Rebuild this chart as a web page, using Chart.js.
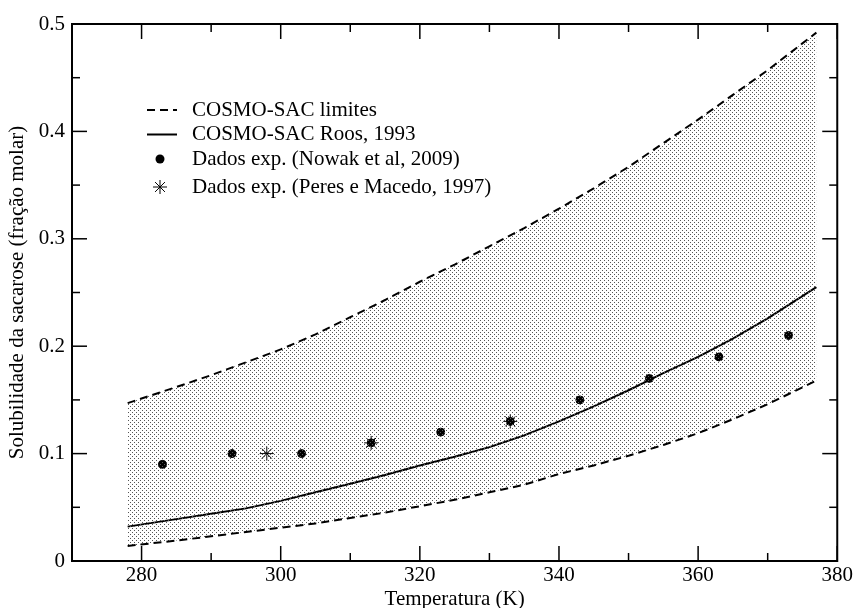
<!DOCTYPE html>
<html>
<head>
<meta charset="utf-8">
<script src="https://cdn.jsdelivr.net/npm/chart.js@4/dist/chart.umd.min.js"></script>
<style>
html,body{margin:0;padding:0;background:#fff;}
#wrap{width:855px;height:608px;position:relative;}
</style>
</head>
<body>
<div id="wrap"><canvas id="c" width="855" height="608"></canvas></div>
<script>
// ---- data ----
const temps = [278,285,290,295,300,305,310,315,320,325,330,335,340,345,350,355,360,365,370,377];
const upperLimit = [0.147,0.162,0.173,0.185,0.197,0.211,0.227,0.243,0.260,0.276,0.293,0.310,0.328,0.347,0.367,0.389,0.411,0.434,0.457,0.492];
const lowerLimit = [0.014,0.019,0.023,0.027,0.031,0.035,0.040,0.045,0.051,0.057,0.064,0.071,0.081,0.089,0.098,0.108,0.119,0.132,0.146,0.168];
const roos = [0.032,0.039,0.044,0.049,0.056,0.064,0.072,0.080,0.089,0.097,0.106,0.117,0.130,0.144,0.159,0.175,0.190,0.207,0.226,0.255];
const nowakT = [283,293,303,313,323,333,343,353,363,373];
const nowakX = [0.09,0.10,0.10,0.11,0.12,0.13,0.15,0.17,0.19,0.21];
const peresT = [298,313,333];
const peresX = [0.10,0.11,0.13];
const xTicks = [280,300,320,340,360,380];
const xMinor = [270,290,310,330,350,370];
const yTicks = [0,0.1,0.2,0.3,0.4,0.5];
const yMinor = [0.05,0.15,0.25,0.35,0.45];
const labels = ['COSMO-SAC limites','COSMO-SAC Roos, 1993','Dados exp. (Nowak et al, 2009)','Dados exp. (Peres e Macedo, 1997)'];
const xTitle = 'Temperatura (K)';
const yTitle = 'Solubilidade da sacarose (fração molar)';

const FONT = "'Liberation Serif','Times New Roman',serif";
const pts = (xs, ys) => xs.map((x,i)=>({x:x, y:ys[i]}));

// stipple pattern
const pc = document.createElement('canvas');
pc.width = 4; pc.height = 4;
const pctx = pc.getContext('2d');
pctx.fillStyle = '#555';
pctx.fillRect(0,0,1,1);
pctx.fillRect(2,2,1,1);
const ctx0 = document.getElementById('c').getContext('2d');
const pattern = ctx0.createPattern(pc,'repeat');

const framePlugin = {
  id:'frame',
  afterDraw(chart){
    const {ctx, chartArea:a, scales:{x,y}} = chart;
    ctx.save();
    ctx.strokeStyle = '#000';
    ctx.lineWidth = 1.5;
    ctx.setLineDash([]);
    const tick = (x1,y1,x2,y2)=>{ctx.beginPath();ctx.moveTo(x1,y1);ctx.lineTo(x2,y2);ctx.stroke();};
    xTicks.forEach(v=>{const p=x.getPixelForValue(v); tick(p,a.bottom,p,a.bottom-15); tick(p,a.top,p,a.top+15);});
    xMinor.forEach(v=>{const p=x.getPixelForValue(v); tick(p,a.bottom,p,a.bottom-8); tick(p,a.top,p,a.top+8);});
    yTicks.forEach(v=>{const p=y.getPixelForValue(v); tick(a.left,p,a.left+15,p); tick(a.right,p,a.right-15,p);});
    yMinor.forEach(v=>{const p=y.getPixelForValue(v); tick(a.left,p,a.left+8,p); tick(a.right,p,a.right-8,p);});
    ctx.lineWidth = 2;
    ctx.strokeRect(a.left,a.top,a.right-a.left,a.bottom-a.top);
    // legend
    const lx0=147, lx1=177, tx=192;
    const rows=[110,134.5,159,187];
    ctx.lineWidth=2;
    ctx.setLineDash([8,5]);
    tick(lx0,rows[0],lx1,rows[0]);
    ctx.setLineDash([]);
    tick(lx0,rows[1],lx1,rows[1]);
    ctx.fillStyle='#000';
    ctx.beginPath(); ctx.arc(160,rows[2],4.5,0,Math.PI*2); ctx.fill();
    ctx.lineWidth=1;
    const r=7;
    for(let k=0;k<4;k++){const ang=k*Math.PI/4; tick(160-r*Math.cos(ang),rows[3]-r*Math.sin(ang),160+r*Math.cos(ang),rows[3]+r*Math.sin(ang));}
    ctx.font = '21px '+FONT;
    ctx.textBaseline='middle';
    ctx.textAlign='left';
    labels.forEach((t,i)=>ctx.fillText(t,tx,rows[i]));
    ctx.restore();
  }
};

new Chart(document.getElementById('c'), {
  type:'scatter',
  data:{
    datasets:[
      {label:labels[0], data:pts(temps,lowerLimit), showLine:true, borderColor:'#000', borderWidth:2, borderDash:[8,5], pointRadius:0, fill:false, tension:0},
      {label:labels[0], data:pts(temps,upperLimit), showLine:true, borderColor:'#000', borderWidth:2, borderDash:[8,5], pointRadius:0, fill:'-1', backgroundColor:pattern, tension:0},
      {label:labels[1], data:pts(temps,roos), showLine:true, borderColor:'#000', borderWidth:2, pointRadius:0, fill:false, tension:0},
      {label:labels[2], data:pts(nowakT,nowakX), showLine:false, pointStyle:'circle', pointRadius:4, backgroundColor:'#000', borderColor:'#000', borderWidth:1},
      {label:labels[3], data:pts(peresT,peresX), showLine:false, pointStyle:'star', pointRadius:7, borderColor:'#000', borderWidth:1}
    ]
  },
  options:{
    responsive:false,
    animation:false,
    devicePixelRatio:1,
    layout:{padding:{top:24,right:17,left:0,bottom:0}},
    plugins:{legend:{display:false}, tooltip:{enabled:false}},
    scales:{
      x:{type:'linear', min:270, max:380,
        grid:{display:false, drawTicks:false}, border:{display:false},
        afterBuildTicks:s=>{s.ticks = xTicks.map(v=>({value:v}));},
        afterFit:s=>{s.height=47;},
        ticks:{color:'#000', font:{family:FONT,size:21}, padding:2, maxRotation:0, callback:v=>String(v)},
        title:{display:true, text:xTitle, color:'#000', font:{family:FONT,size:21,lineHeight:0.85}, padding:0}
      },
      y:{type:'linear', min:0, max:0.5,
        grid:{display:false, drawTicks:false}, border:{display:false},
        afterBuildTicks:s=>{s.ticks = yTicks.map(v=>({value:v}));},
        afterFit:s=>{s.width=72;},
        ticks:{color:'#000', font:{family:FONT,size:21}, padding:7, callback:v=>(v===0?'0':String(Math.round(v*10)/10))},
        title:{display:true, text:yTitle, color:'#000', font:{family:FONT,size:21,lineHeight:0.85}, padding:{top:9,bottom:0}}
      }
    }
  },
  plugins:[framePlugin]
});
</script>
</body>
</html>
